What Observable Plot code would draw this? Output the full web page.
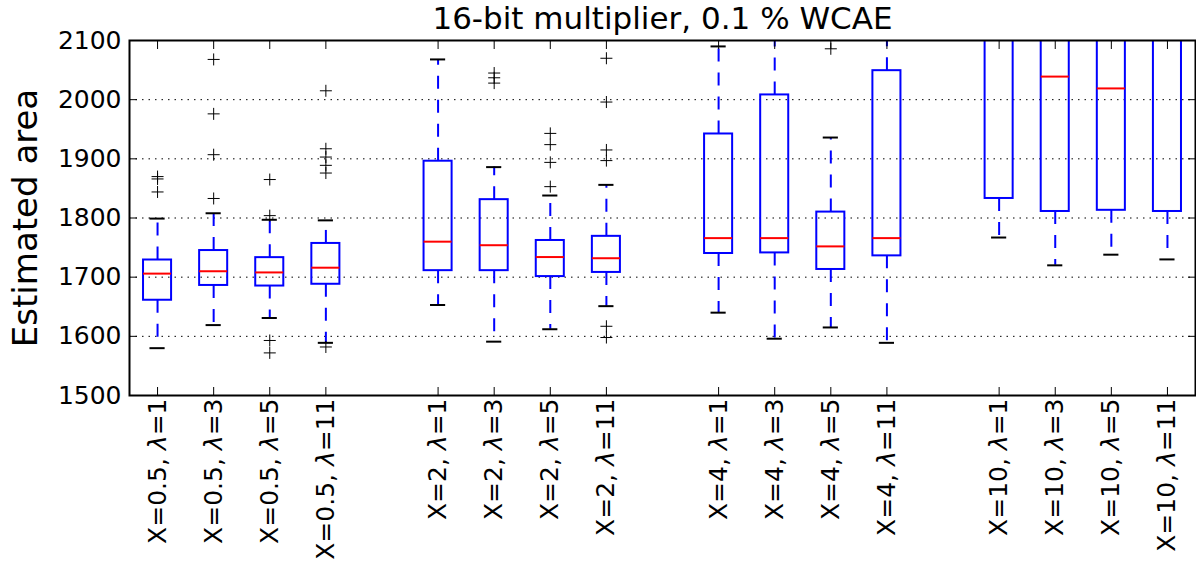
<!DOCTYPE html>
<html><head><meta charset="utf-8">
<script src="https://cdn.jsdelivr.net/npm/d3@7"></script>
<script src="https://cdn.jsdelivr.net/npm/@observablehq/plot@0.6"></script>
<style>body{margin:0;background:#fff} svg{display:block}</style>
</head><body><div id="chart"></div>
<script>
// ---- data ----
const groups = ["0.5", "2", "4", "10"];
const lambdas = [1, 3, 5, 11];
const lowerWhisker = [1580, 1619, 1631, 1589, 1653, 1591, 1612, 1651, 1640, 1596, 1615, 1589, 1767, 1720, 1738, 1730];
const q1 =           [1661, 1686, 1685, 1688, 1711, 1711, 1701, 1708, 1740, 1741, 1713, 1736, 1833, 1811, 1813, 1811];
const median =       [1706, 1710, 1708, 1716, 1760, 1754, 1734, 1732, 1766, 1766, 1752, 1766, 2120, 2039, 2019, 2110];
const q3 =           [1729, 1745, 1733, 1757, 1896, 1831, 1762, 1769, 1942, 2008, 1810, 2049, 2300, 2260, 2250, 2270];
const upperWhisker = [1799, 1808, 1797, 1796, 2068, 1886, 1838, 1856, 2090, 2160, 1936, 2200, 2600, 2500, 2480, 2520];
const outliers = [
  [1870, 1866, 1844],
  [2068, 1976, 1907, 1833],
  [1865, 1804, 1593, 1572],
  [2015, 1917, 1903, 1889, 1876, 1582],
  [],
  [2045, 2037, 2028],
  [1943, 1924, 1894, 1853],
  [2070, 1996, 1915, 1897, 1617, 1598],
  [],
  [],
  [2086],
  [],
  [], [], [], []
];
const yTicks = [1500, 1600, 1700, 1800, 1900, 2000, 2100];
const title = "16-bit multiplier, 0.1 % WCAE";
const yLabel = "Estimated area";

// ---- build table ----
const boxes = q1.map((_, i) => {
  const g = Math.floor(i / 4), k = i % 4;
  return {
    pos: g * 5 + k + 1,
    label: `X=${groups[g]}, λ=${lambdas[k]}`,
    lo: lowerWhisker[i], q1: q1[i], med: median[i], q3: q3[i], hi: upperWhisker[i]
  };
});
const fliers = boxes.flatMap((b, i) => outliers[i].map(v => ({pos: b.pos, v})));
const tickPos = boxes.map(b => b.pos);
const labelOf = new Map(boxes.map(b => [b.pos, b.label]));
const boxHalf = 0.25, capHalf = 0.135;
const FONT = "DejaVu Sans";

const chart = Plot.plot({
  width: 1196, height: 569,
  marginLeft: 129, marginRight: 1, marginTop: 40, marginBottom: 174,
  style: {fontFamily: FONT, background: "white", color: "black", overflow: "visible"},
  x: {domain: [0.5, 19.5], axis: null},
  y: {domain: [1500, 2100], axis: null},
  marks: [
    Plot.gridY(yTicks.slice(1, -1), {stroke: "black", strokeOpacity: 1, strokeWidth: 1, strokeDasharray: "1.5,5"}),
    Plot.ruleX(boxes, {x: "pos", y1: "q1", y2: "lo", stroke: "blue", strokeWidth: 2, strokeDasharray: "13,11", clip: true}),
    Plot.ruleX(boxes, {x: "pos", y1: "q3", y2: "hi", stroke: "blue", strokeWidth: 2, strokeDasharray: "13,11", clip: true}),
    Plot.ruleY(boxes, {y: "lo", x1: d => d.pos - capHalf, x2: d => d.pos + capHalf, stroke: "black", strokeWidth: 2, clip: true}),
    Plot.ruleY(boxes, {y: "hi", x1: d => d.pos - capHalf, x2: d => d.pos + capHalf, stroke: "black", strokeWidth: 2, clip: true}),
    Plot.rect(boxes, {x1: d => d.pos - boxHalf, x2: d => d.pos + boxHalf, y1: "q1", y2: "q3", fill: "none", stroke: "blue", strokeWidth: 2, clip: true}),
    Plot.ruleY(boxes, {y: "med", x1: d => d.pos - boxHalf, x2: d => d.pos + boxHalf, stroke: "red", strokeWidth: 2, clip: true}),
    Plot.dot(fliers, {x: "pos", y: "v", symbol: "plus", r: 3.95, stroke: "black", strokeWidth: 1, clip: true}),
    Plot.frame({stroke: "black", strokeWidth: 2}),
    // inward ticks
    Plot.axisX(tickPos, {anchor: "bottom", tickSize: 8, dy: -8, tickFormat: () => "", label: null}),
    Plot.axisX(tickPos, {anchor: "top", tickSize: 8, dy: 8, tickFormat: () => "", label: null}),
    Plot.axisY(yTicks, {anchor: "left", tickSize: 8, dx: 8, tickFormat: () => "", label: null}),
    Plot.axisY(yTicks, {anchor: "right", tickSize: 8, dx: -8, tickFormat: () => "", label: null}),
    // tick labels
    Plot.axisX(tickPos, {anchor: "bottom", tickSize: 0, tickPadding: 3, tickRotate: -90, fontSize: 25,
      tickFormat: p => labelOf.get(p), label: null}),
    Plot.axisY(yTicks, {anchor: "left", tickSize: 0, tickPadding: 8, fontSize: 25,
      tickFormat: d => String(d), label: null}),
    // title & y label
    Plot.text([title], {text: d => d, frameAnchor: "top", dy: -21.6, fontSize: 31, fill: "black",
      textAnchor: "middle", lineAnchor: "middle"}),
    Plot.text([yLabel], {text: d => d, frameAnchor: "left", dx: -103, rotate: -90, fontSize: 34, fill: "black",
      textAnchor: "middle", lineAnchor: "middle"})
  ]
});

// italic lambda as in the mathtext labels
const ns = "http://www.w3.org/2000/svg";
chart.querySelectorAll('g[aria-label="x-axis tick label"] text').forEach(t => {
  const s = t.textContent;
  const idx = s.indexOf("λ");
  if (idx < 0) return;
  while (t.firstChild) t.removeChild(t.firstChild);
  const a = document.createElementNS(ns, "tspan"); a.textContent = s.slice(0, idx);
  const b = document.createElementNS(ns, "tspan"); b.textContent = "λ"; b.setAttribute("font-style", "italic");
  const c = document.createElementNS(ns, "tspan"); c.textContent = s.slice(idx + 1);
  t.append(a, b, c);
});
chart.querySelectorAll("text, tspan").forEach(t => { t.style.fontFamily = "'DejaVu Sans'"; });

document.getElementById("chart").appendChild(chart);
</script>
</body></html>
